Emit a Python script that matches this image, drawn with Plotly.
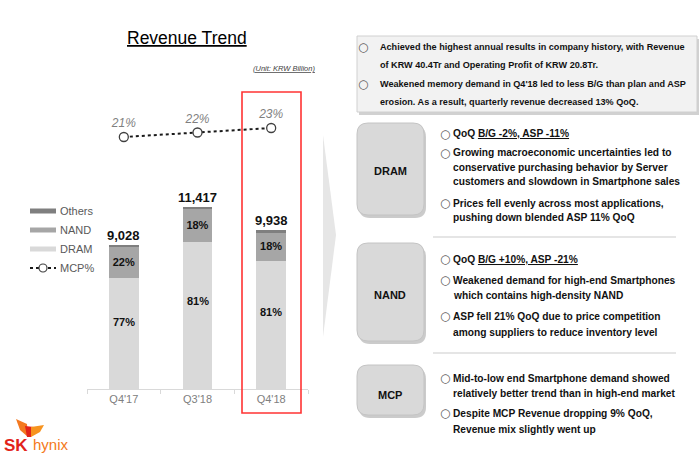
import plotly.graph_objects as go

W, H = 700, 464

# ---------------- data ----------------
quarters = ["Q4'17", "Q3'18", "Q4'18"]
revenue = [9028, 11417, 9938]          # KRW billion
dram_share = [77, 81, 81]              # %
nand_share = [22, 18, 18]              # %
others_share = [1, 1, 1]               # %
mcp_share = [21, 22, 23]               # %

legend_items = ["Others", "NAND", "DRAM", "MCP%"]

top_lines = [
    ("bullet", "Achieved the highest annual results in company history, with Revenue"),
    ("cont", "of KRW 40.4Tr and Operating Profit of KRW 20.8Tr."),
    ("bullet", "Weakened memory demand in Q4'18 led to less B/G than plan and ASP"),
    ("cont", "erosion. As a result, quarterly revenue decreased 13% QoQ."),
]
dram_lines = [
    ("bullet", "QoQ <u>B/G -2%, ASP -11%</u>"),
    ("bullet", "Growing macroeconomic uncertainties led to"),
    ("cont", "conservative purchasing behavior by Server"),
    ("cont", "customers and slowdown in Smartphone sales"),
    ("bullet", "Prices fell evenly across most applications,"),
    ("cont", "pushing down blended ASP 11% QoQ"),
]
nand_lines = [
    ("bullet", "QoQ <u>B/G +10%, ASP -21%</u>"),
    ("bullet", "Weakened demand for high-end Smartphones"),
    ("cont", "which contains high-density NAND"),
    ("bullet", "ASP fell 21% QoQ due to price competition"),
    ("cont", "among suppliers to reduce inventory level"),
]
mcp_lines = [
    ("bullet", "Mid-to-low end Smartphone demand showed"),
    ("cont", "relatively better trend than in high-end market"),
    ("bullet", "Despite MCP Revenue dropping 9% QoQ,"),
    ("cont", "Revenue mix slightly went up"),
]

# ---------------- styles ----------------
C_DRAM, C_NAND, C_OTH = "#d9d9d9", "#a6a6a6", "#7f7f7f"
FONT = "Liberation Sans"
NARROW = "Liberation Sans Narrow, Liberation Sans"


def px(x):
    return x / W


def py(y):
    return 1 - y / H


dram_vals = [r * s / 100 for r, s in zip(revenue, dram_share)]
nand_vals = [r * s / 100 for r, s in zip(revenue, nand_share)]
oth_vals = [r * s / 100 for r, s in zip(revenue, others_share)]

fig = go.Figure()
bar_font = dict(family=FONT, size=11, color="#111111", weight="bold")
fig.add_trace(go.Bar(x=quarters, y=dram_vals, name="DRAM", marker=dict(color=C_DRAM, line_width=0),
                     hoverinfo="skip"))
fig.add_trace(go.Bar(x=quarters, y=nand_vals, name="NAND", marker=dict(color=C_NAND, line_width=0),
                     text=[f"{s}%" for s in nand_share], textposition="inside",
                     insidetextanchor="middle", textfont=bar_font, hoverinfo="skip"))
fig.add_trace(go.Bar(x=quarters, y=oth_vals, name="Others", marker=dict(color=C_OTH, line_width=0),
                     hoverinfo="skip"))
fig.add_trace(go.Scatter(x=quarters, y=mcp_share, yaxis="y2", name="MCP%",
                         mode="lines+markers+text",
                         text=[f"{v}%" for v in mcp_share], textposition="top center",
                         textfont=dict(family=FONT, size=12, color="#7f7f7f", style="italic"),
                         line=dict(color="#1a1a1a", width=2, dash="dot"),
                         marker=dict(symbol="circle", size=9, color="white",
                                     line=dict(color="#404040", width=1.3)),
                         hoverinfo="skip"))

annotations = []
shapes = []


def note(x, y, text, font, xanchor="center"):
    annotations.append(dict(x=px(x), y=py(y), xref="paper", yref="paper", showarrow=False,
                            xanchor=xanchor, yanchor="middle", text=text, font=font))


# DRAM share labels (placed a little above the segment middle, as in the slide)
for q, v, s in zip(quarters, dram_vals, dram_share):
    annotations.append(dict(x=q, y=v * 0.6, xref="x", yref="y", text=f"{s}%", showarrow=False,
                            xanchor="center", yanchor="middle", font=bar_font))

# totals above bars
for q, r in zip(quarters, revenue):
    annotations.append(dict(x=q, y=r, xref="x", yref="y", text=f"{r:,}", showarrow=False,
                            xanchor="center", yanchor="bottom", yshift=0,
                            font=dict(family=FONT, size=13, color="#111111", weight="bold")))

# title & unit
note(187, 38, "<u>Revenue Trend</u>", dict(family=FONT, size=17.5, color="#000000"))
note(317, 68, "<i><u>(Unit: KRW Billion)</u></i>", dict(family=FONT, size=7.5, color="#404040"),
     xanchor="right")

# manual legend
leg_y = [211, 230, 249, 268]
for name, col, yy in zip(legend_items[:3], [C_OTH, C_NAND, C_DRAM], leg_y[:3]):
    shapes.append(dict(type="rect", xref="paper", yref="paper", x0=px(30), x1=px(56),
                       y0=py(yy + 2.5), y1=py(yy - 2.5), fillcolor=col, line_width=0))
for name, yy in zip(legend_items, leg_y):
    note(58, yy, name, dict(family=FONT, size=11, color="#595959"), xanchor="left")
shapes.append(dict(type="line", xref="paper", yref="paper", x0=px(30), x1=px(56),
                   y0=py(268), y1=py(268), line=dict(color="#1a1a1a", width=2, dash="dot")))
shapes.append(dict(type="circle", xref="paper", yref="paper", x0=px(39), x1=px(47),
                   y0=py(272), y1=py(264), fillcolor="white", line=dict(color="#404040", width=1.2)))

# red highlight box
shapes.append(dict(type="rect", xref="paper", yref="paper", x0=px(242), x1=px(301),
                   y0=py(413), y1=py(92), line=dict(color="#ff3333", width=1.6), fillcolor="rgba(0,0,0,0)"))

# chevron
shapes.append(dict(type="path", xref="paper", yref="paper",
                   path=f"M {px(323)} {py(135)} L {px(336)} {py(235)} L {px(323)} {py(337)} Z",
                   fillcolor="#e6e6e6", line_width=0))


def rrect(x0, y0, x1, y1, r):
    pts = [
        ("M", [(x0 + r, y0)]), ("L", [(x1 - r, y0)]), ("Q", [(x1, y0), (x1, y0 + r)]),
        ("L", [(x1, y1 - r)]), ("Q", [(x1, y1), (x1 - r, y1)]), ("L", [(x0 + r, y1)]),
        ("Q", [(x0, y1), (x0, y1 - r)]), ("L", [(x0, y0 + r)]), ("Q", [(x0, y0), (x0 + r, y0)]),
    ]
    s = ""
    for cmd, ps in pts:
        s += cmd + " " + " ".join(f"{px(a):.5f},{py(b):.5f}" for a, b in ps) + " "
    return s + "Z"


# top summary box (shadow + box)
shapes.append(dict(type="rect", xref="paper", yref="paper", x0=px(359), x1=px(699),
                   y0=py(115), y1=py(39), fillcolor="#bdbdbd", line_width=0, opacity=0.7))
shapes.append(dict(type="rect", xref="paper", yref="paper", x0=px(357), x1=px(697),
                   y0=py(112), y1=py(36), fillcolor="#f2f2f2", line=dict(color="#d0d0d0", width=1)))

# section boxes
sections = [("DRAM", 123, 215, 171), ("NAND", 243, 341, 295), ("MCP", 365, 415, 395)]
for label, y0, y1, yc in sections:
    shapes.append(dict(type="path", xref="paper", yref="paper", path=rrect(359, y0 + 3, 426, y1 + 3, 11),
                       fillcolor="#a8a8a8", line_width=0, opacity=0.6))
    shapes.append(dict(type="path", xref="paper", yref="paper", path=rrect(357, y0, 424, y1, 11),
                       fillcolor="#d9d9d9", line=dict(color="#c4c4c4", width=1)))
    note(390, yc, label, dict(family=FONT, size=11, color="#111111", weight="bold"))

# separators
for yy in [237, 353]:
    shapes.append(dict(type="line", xref="paper", yref="paper", x0=px(433), x1=px(676),
                       y0=py(yy), y1=py(yy), line=dict(color="#dcdcdc", width=1.5)))


def add_lines(lines, ys, bx, tx, size, bsize):
    for (kind, txt), yy in zip(lines, ys):
        if kind == "bullet":
            note(bx, yy, "○", dict(family="DejaVu Sans", size=bsize, color="#595959"))
        note(tx, yy, txt, dict(family=NARROW, size=size, color="#111111", weight="bold"),
             xanchor="left")


add_lines(top_lines, [47, 65, 84, 102], 363, 378, 9.1, 12)
add_lines(dram_lines, [134, 153, 168, 182, 203, 217], 445, 451, 10.2, 12)
add_lines(nand_lines, [259, 280, 295, 316, 332], 445, 451, 10.2, 12)
add_lines(mcp_lines, [378, 393, 413, 429], 445, 451, 10.2, 12)

# SK hynix logo
shapes.append(dict(type="path", xref="paper", yref="paper",
                   path=f"M {px(16)},{py(419)} L {px(27)},{py(424)} L {px(28)},{py(437)} L {px(20)},{py(430)} Z",
                   fillcolor="#f47920", line_width=0))
shapes.append(dict(type="path", xref="paper", yref="paper",
                   path=f"M {px(25)},{py(426)} L {px(34)},{py(427)} L {px(31)},{py(437)} L {px(27)},{py(437)} Z",
                   fillcolor="#e2231a", line_width=0))
shapes.append(dict(type="path", xref="paper", yref="paper",
                   path=f"M {px(31)},{py(427)} L {px(44)},{py(425)} L {px(40)},{py(432)} L {px(31)},{py(437)} Z",
                   fillcolor="#f7931e", line_width=0))
note(2, 445, "SK", dict(family=FONT, size=17, color="#e2231a", weight="bold"), xanchor="left")
note(31, 444, "hynix", dict(family=FONT, size=15, color="#f47920"), xanchor="left")

fig.update_layout(
    width=W, height=H, margin=dict(l=0, r=0, t=0, b=0),
    paper_bgcolor="white", plot_bgcolor="white",
    barmode="stack", bargap=0.6, showlegend=False,
    font=dict(family=FONT),
    xaxis=dict(domain=[px(87), px(308)], showline=True, linecolor="#d9d9d9", linewidth=1,
               ticks="outside", tickson="boundaries", ticklen=4, tickcolor="#d9d9d9",
               tickfont=dict(family=FONT, size=11, color="#808080"), showgrid=False, fixedrange=True),
    yaxis=dict(domain=[py(389), py(100)], range=[0, 18119], visible=False, fixedrange=True),
    yaxis2=dict(domain=[py(389), py(100)], overlaying="y", range=[-35, 29.22], visible=False,
                fixedrange=True),
    shapes=shapes, annotations=annotations,
)

fig.write_html("out.html", config={"displayModeBar": False},
               post_script="document.body.style.margin='0';document.body.style.overflow='hidden';")
